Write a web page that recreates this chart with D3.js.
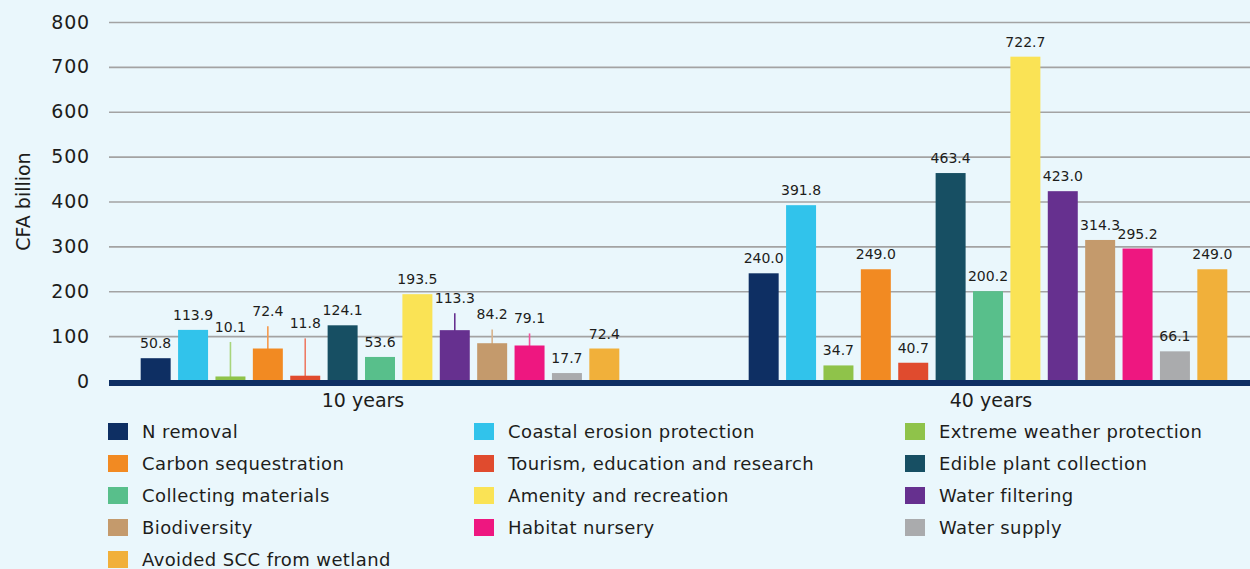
<!DOCTYPE html>
<html>
<head>
<meta charset="utf-8">
<script src="https://cdn.jsdelivr.net/npm/d3@7"></script>
<style>
  html, body { margin: 0; padding: 0; background: #eaf7fc; }
  svg { display: block; font-family: "DejaVu Sans", sans-serif; }
</style>
</head>
<body>
<div id="chart"></div>
<script>
const width = 1250;
const height = 569;

const groups = ["10 years", "40 years"];
const categories = [
  "N removal", "Coastal erosion protection", "Extreme weather protection",
  "Carbon sequestration", "Tourism, education and research", "Edible plant collection",
  "Collecting materials", "Amenity and recreation", "Water filtering",
  "Biodiversity", "Habitat nursery", "Water supply",
  "Avoided SCC from wetland"
];
const values10 = [50.8, 113.9, 10.1, 72.4, 11.8, 124.1, 53.6, 193.5, 113.3, 84.2, 79.1, 17.7, 72.4];
const values40 = [240.0, 391.8, 34.7, 249.0, 40.7, 463.4, 200.2, 722.7, 423.0, 314.3, 295.2, 66.1, 249.0];
// upper end of the error bars shown for 10 years (null = none)
const errTop10 = [null, null, 87, 122, 95, null, null, null, 151, 115, 106, null, null];
const colors = [
  "#0e2f63", "#31c3eb", "#8fc34a",
  "#f28a22", "#e04b2e", "#174f63",
  "#58bf8b", "#fae355", "#66308f",
  "#c49a6c", "#ee1780", "#aaabad",
  "#f1b03a"
];
const errColors = [
  "#0e2f63", "#31c3eb", "#a8d57c",
  "#f59a4c", "#ee7a64", "#174f63",
  "#58bf8b", "#fae355", "#66308f",
  "#d9b48c", "#f2529c", "#aaabad",
  "#f1b03a"
];
const yTicks = [0, 100, 200, 300, 400, 500, 600, 700, 800];

const plotLeft = 109;
const plotRight = 1250;
const textColor = "#1d1d1b";

const svg = d3.select("#chart")
  .append("svg")
  .attr("width", width)
  .attr("height", height);

svg.append("rect")
  .attr("width", width)
  .attr("height", height)
  .attr("fill", "#eaf7fc");

const y = d3.scaleLinear()
  .domain([0, 800])
  .range([381, 22]);

const x0 = d3.scaleBand()
  .domain(groups)
  .range([76, 1292]);

const x1 = d3.scaleBand()
  .domain(categories)
  .range([0, x0.bandwidth()])
  .paddingInner(0.198)
  .paddingOuter(1.73);

const groupLabelX = d3.scalePoint()
  .domain(groups)
  .range([363, 991]);

// gridlines
svg.append("g")
  .attr("transform", `translate(${plotLeft},0)`)
  .call(d3.axisLeft(y).tickValues(yTicks).tickSize(-(plotRight - plotLeft)).tickFormat(""))
  .call(g => g.select(".domain").remove())
  .call(g => g.selectAll("line").attr("stroke", "#a3a3a3").attr("stroke-width", 1.6));

// y axis labels
svg.append("g")
  .attr("transform", `translate(${plotLeft},0)`)
  .call(d3.axisLeft(y).tickValues(yTicks).tickSize(0).tickPadding(19))
  .call(g => g.select(".domain").remove())
  .call(g => g.selectAll("text")
    .attr("font-family", "DejaVu Sans, sans-serif")
    .attr("font-size", 19)
    .attr("letter-spacing", 0.8)
    .attr("fill", textColor));

svg.append("text")
  .attr("transform", `translate(30,${y(400)}) rotate(-90)`)
  .attr("text-anchor", "middle")
  .attr("font-size", 19)
  .attr("fill", textColor)
  .text("CFA billion");

const data = groups.map((g, gi) => ({
  group: g,
  bars: categories.map((c, i) => ({
    cat: c,
    i: i,
    value: gi === 0 ? values10[i] : values40[i],
    err: gi === 0 ? errTop10[i] : null
  }))
}));

const groupSel = svg.selectAll(".group")
  .data(data)
  .join("g")
  .attr("class", "group")
  .attr("transform", d => `translate(${x0(d.group)},0)`);

// error bars (drawn first, bars cover the lower part)
groupSel.selectAll(".err")
  .data(d => d.bars.filter(b => b.err != null))
  .join("line")
  .attr("class", "err")
  .attr("x1", d => x1(d.cat) + x1.bandwidth() / 2)
  .attr("x2", d => x1(d.cat) + x1.bandwidth() / 2)
  .attr("y1", y(0) + 2)
  .attr("y2", d => y(d.err))
  .attr("stroke", d => errColors[d.i])
  .attr("stroke-width", 1.6);

groupSel.selectAll(".bar")
  .data(d => d.bars)
  .join("rect")
  .attr("class", "bar")
  .attr("x", d => x1(d.cat))
  .attr("width", x1.bandwidth())
  .attr("y", d => y(d.value))
  .attr("height", d => y(0) - y(d.value))
  .attr("fill", d => colors[d.i]);

groupSel.selectAll(".val")
  .data(d => d.bars)
  .join("text")
  .attr("class", "val")
  .attr("x", d => x1(d.cat) + x1.bandwidth() / 2)
  .attr("y", d => y(Math.max(d.value, d.err || 0)) - 10)
  .attr("text-anchor", "middle")
  .attr("font-size", 14)
  .attr("fill", textColor)
  .text(d => d.value.toFixed(1));

// thick baseline
svg.append("rect")
  .attr("x", plotLeft)
  .attr("y", y(0) - 1)
  .attr("width", plotRight - plotLeft)
  .attr("height", 6)
  .attr("fill", "#0e2f63");

svg.selectAll(".glabel")
  .data(groups)
  .join("text")
  .attr("class", "glabel")
  .attr("x", d => groupLabelX(d))
  .attr("y", 407)
  .attr("text-anchor", "middle")
  .attr("font-size", 19)
  .attr("fill", textColor)
  .text(d => d);

// legend
const legendCols = [108, 474, 905];
const legend = svg.selectAll(".legend")
  .data(categories)
  .join("g")
  .attr("class", "legend")
  .attr("transform", (d, i) => `translate(${legendCols[i % 3]},${423 + Math.floor(i / 3) * 32})`);

legend.append("rect")
  .attr("width", 20)
  .attr("height", 17)
  .attr("fill", (d, i) => colors[i]);

legend.append("text")
  .attr("x", 34)
  .attr("y", 15)
  .attr("font-size", 18)
  .attr("letter-spacing", 0.4)
  .attr("fill", textColor)
  .text(d => d);
</script>
</body>
</html>
